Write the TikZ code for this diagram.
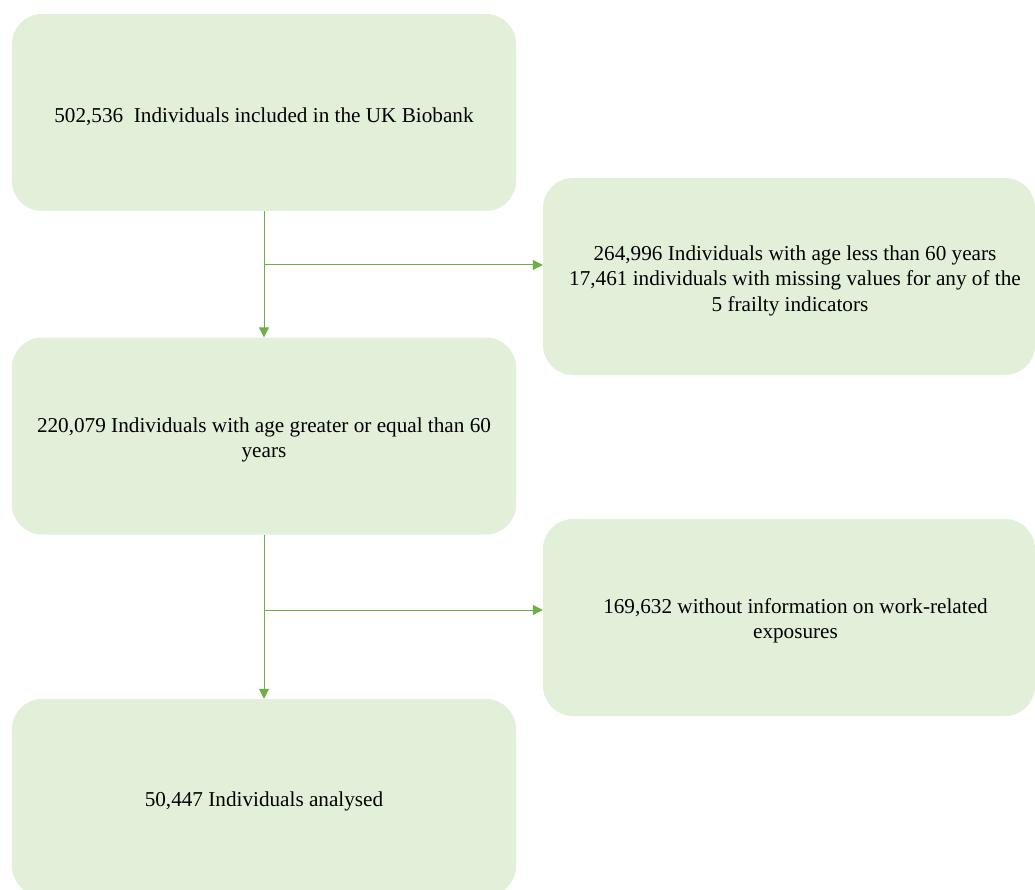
\documentclass[tikz,border=0pt]{standalone}
\usepackage{fontspec}
\setmainfont{Liberation Serif}
\usetikzlibrary{arrows.meta,calc}
\definecolor{boxfill}{HTML}{E2EFD9}
\definecolor{arrowgreen}{HTML}{70AD47}
\begin{document}
\begin{tikzpicture}[x=1pt,y=-1pt,
  flowbox/.style={rectangle, rounded corners=30pt, fill=boxfill, draw=none,
    minimum height=197pt, inner sep=0pt},
  leftbox/.style={flowbox, minimum width=504pt},
  rightbox/.style={flowbox, minimum width=492pt},
  boxtext/.style={align=center, inner sep=0pt, font=\fontsize{21.2}{25.5}\selectfont},
  conn/.style={draw=arrowgreen, line width=1pt, -{Triangle[length=10pt,width=10pt]}}]
\useasboundingbox (0,0) rectangle (1035,890);
\node[leftbox] (b1) at (264,112.5) {};
\node[rightbox] (b2) at (789,276.5) {};
\node[leftbox] (b3) at (264,436) {};
\node[rightbox] (b4) at (789,617.5) {};
\node[leftbox] (b5) at (264,797.5) {};
\node[boxtext] (t1) at ($(b1.center)+(0,4)$) {502,536\ \ Individuals included in the UK Biobank};
\node[boxtext] (t2) at ($(b2.center)+(6,4)$) {264,996 Individuals with age less than 60 years\\17,461 individuals with missing values for any of the\\5 frailty indicators\hspace*{10pt}};
\node[boxtext] (t3) at ($(b3.center)+(0,4)$) {220,079 Individuals with age greater or equal than 60\\years};
\node[boxtext] (t4) at ($(b4.center)+(6.5,3.5)$) {169,632 without information on work-related\\exposures};
\node[boxtext] (t5) at ($(b5.center)+(0,3.5)$) {50,447 Individuals analysed};
\coordinate (j1) at (264,265);
\coordinate (j2) at (264,610);
\draw[conn] (b1.south) -- (b3.north);
\draw[conn] (j1) -- (j1 -| b2.west);
\draw[conn] (b3.south) -- (b5.north);
\draw[conn] (j2) -- (j2 -| b4.west);
\end{tikzpicture}
\end{document}
